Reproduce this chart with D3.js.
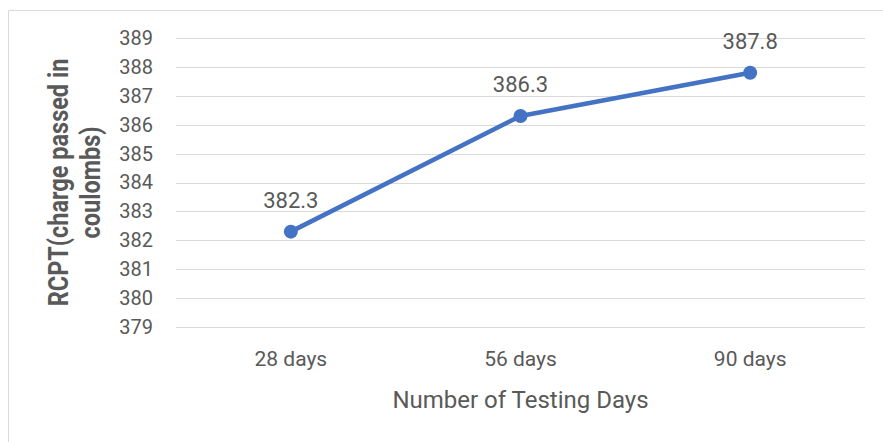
<!DOCTYPE html>
<html>
<head>
<meta charset="utf-8">
<script src="https://cdn.jsdelivr.net/npm/d3@7"></script>
<style>
  body { margin: 0; background: #fff; }
  text { font-family: "Roboto", "Liberation Sans", sans-serif; fill: #595959; }
</style>
</head>
<body>
<div id="chart"></div>
<script>
var categories = ["28 days", "56 days", "90 days"];
var rcptValues = [382.3, 386.3, 387.8];
var yTicks = [379, 380, 381, 382, 383, 384, 385, 386, 387, 388, 389];

var W = 883, H = 442;
var margin = {top: 38, right: 18, bottom: 115, left: 176},
    width = W - margin.left - margin.right,
    height = H - margin.top - margin.bottom;

var svg = d3.select("#chart").append("svg")
  .attr("width", W).attr("height", H);

// chart area border (only top + left are in view)
svg.append("path")
  .attr("d", "M8.5,442 V10.5 H883")
  .attr("fill", "none").attr("stroke", "#d9d9d9").attr("stroke-width", 1);

var g = svg.append("g")
  .attr("transform", "translate(" + margin.left + "," + margin.top + ")");

var x = d3.scaleBand().domain(categories).range([0, width]);
var y = d3.scaleLinear().domain([379, 389]).range([height, 0]);

// gridlines
g.append("g").selectAll("line").data(yTicks).join("line")
  .attr("x1", 0).attr("x2", width)
  .attr("y1", function(d) { return Math.round(y(d)) + 0.5; })
  .attr("y2", function(d) { return Math.round(y(d)) + 0.5; })
  .attr("stroke", "#d9d9d9").attr("stroke-width", 1.2);

// y axis labels
var yAxis = g.append("g")
  .call(d3.axisLeft(y).tickValues(yTicks).tickSize(0).tickPadding(23));
yAxis.select(".domain").remove();
yAxis.selectAll("text").style("font-size", "20px").attr("fill", "#595959");

// x axis labels
var xAxis = g.append("g")
  .attr("transform", "translate(0," + height + ")")
  .call(d3.axisBottom(x).tickSize(0).tickPadding(24));
xAxis.select(".domain").remove();
xAxis.selectAll("text").style("font-size", "21px").attr("fill", "#595959");

// axis titles
g.append("text")
  .attr("x", width / 2).attr("y", height + 81)
  .attr("text-anchor", "middle")
  .style("font-size", "24px")
  .text("Number of Testing Days");

var yt = g.append("text")
  .attr("transform", "rotate(-90) scale(0.87,1)")
  .attr("text-anchor", "middle")
  .style("font-size", "27px").style("font-weight", "bold");
yt.append("tspan").attr("x", -(height / 2) / 0.87).attr("y", -108).text("RCPT(charge passed in");
yt.append("tspan").attr("x", -(height / 2) / 0.87).attr("y", -76).text("coulombs)");

var pts = categories.map(function(c, i) { return {c: c, v: rcptValues[i]}; });

g.append("path")
  .datum(pts)
  .attr("fill", "none")
  .attr("stroke", "#4472c4")
  .attr("stroke-width", 4.5)
  .attr("stroke-linejoin", "round")
  .attr("d", d3.line()
    .x(function(d) { return x(d.c) + x.bandwidth() / 2; })
    .y(function(d) { return y(d.v); }));

g.selectAll("circle").data(pts).join("circle")
  .attr("cx", function(d) { return x(d.c) + x.bandwidth() / 2; })
  .attr("cy", function(d) { return y(d.v); })
  .attr("r", 7)
  .attr("fill", "#4472c4");

g.selectAll(".lbl").data(pts).join("text")
  .attr("class", "lbl")
  .attr("x", function(d) { return x(d.c) + x.bandwidth() / 2; })
  .attr("y", function(d) { return y(d.v) - 24; })
  .attr("text-anchor", "middle")
  .style("font-size", "22px")
  .attr("fill", "#404040")
  .text(function(d) { return d3.format(".1f")(d.v); });
</script>
</body>
</html>
